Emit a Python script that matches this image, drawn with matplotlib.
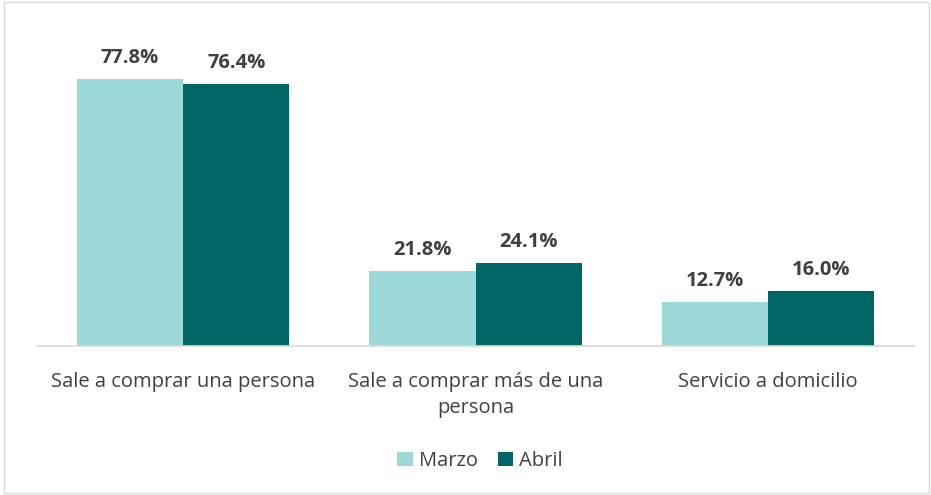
import matplotlib
matplotlib.use("Agg")
import matplotlib.pyplot as plt
import numpy as np
from matplotlib.patches import Rectangle

categories = ["Sale a comprar una persona", "Sale a comprar más de una\npersona", "Servicio a domicilio"]
marzo = [77.8, 21.8, 12.7]
abril = [76.4, 24.1, 16.0]
series_names = ["Marzo", "Abril"]
colors = ["#9DD8D8", "#006666"]

plt.rcParams['font.family'] = ['Open Sans', 'DejaVu Sans']

fig = plt.figure(figsize=(9.31, 4.95), dpi=100)
ax = fig.add_axes([37/931, (495-346)/495, (914-37)/931, 309/495])

x = np.arange(len(categories))
w = 0.363
b1 = ax.bar(x - w/2, marzo, w, color=colors[0], label=series_names[0])
b2 = ax.bar(x + w/2, abril, w, color=colors[1], label=series_names[1])

for bars, vals in ((b1, marzo), (b2, abril)):
    for r, v in zip(bars, vals):
        ax.text(r.get_x() + r.get_width()/2, v + 3.2, f"{v:.1f}%", ha="center", va="bottom",
                fontsize=14.5, fontweight="bold", color="#404040")

ax.set_xlim(-0.5, 2.5)
ax.set_ylim(0, 90)
ax.set_yticks([])
ax.set_xticks(x)
ax.set_xticklabels(categories, fontsize=14.5, color="#404040", linespacing=1.4)
ax.tick_params(axis="x", length=0, pad=19)
for s in ["top", "right", "left"]:
    ax.spines[s].set_visible(False)
ax.spines["bottom"].set_color("#D9D9D9")
ax.spines["bottom"].set_linewidth(1.2)

leg = fig.legend(handles=[b1, b2], labels=series_names, loc="center", bbox_to_anchor=(480/931, 1 - 461/495),
                 ncol=2, frameon=False, fontsize=14.5, handlelength=0.75, handleheight=0.75,
                 handletextpad=0.3, columnspacing=1.0)
for t in leg.get_texts():
    t.set_color("#404040")

fig.patches.append(Rectangle((4/931, 2/495), 925/931, 491/495, transform=fig.transFigure,
                             fill=False, edgecolor="#D9D9D9", linewidth=1))

fig.savefig("out.png", dpi=100)
